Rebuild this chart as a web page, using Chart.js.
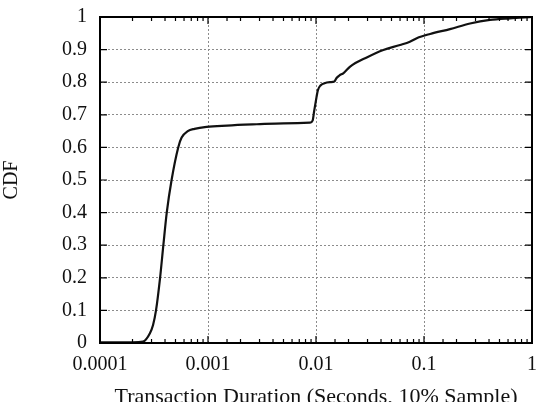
<!DOCTYPE html>
<html>
<head>
<meta charset="utf-8">
<script src="https://cdn.jsdelivr.net/npm/chart.js@4"></script>
<style>
  html, body { margin: 0; padding: 0; background: #fff; }
  canvas { display: block; }
</style>
</head>
<body>
<canvas id="cdfChart" width="540" height="402"></canvas>
<script>
// Transaction duration (seconds) and the CDF value
const durations = [
  0.0001, 0.0002, 0.00025, 0.00029, 0.00031, 0.00033, 0.00036, 0.000386, 0.000415,
  0.00046, 0.00053, 0.00057, 0.00065, 0.00075, 0.00097, 0.0015, 0.00283, 0.005,
  0.0088, 0.0093, 0.0096, 0.01, 0.0104, 0.011, 0.012, 0.0135, 0.0148, 0.0155,
  0.0165, 0.018, 0.0207, 0.0295, 0.042, 0.06, 0.074, 0.0857, 0.114, 0.174,
  0.267, 0.408, 0.625, 1
]
const cdfValues = [
  0.002, 0.002, 0.004, 0.03, 0.055, 0.1, 0.2, 0.3, 0.4,
  0.5, 0.6, 0.63, 0.65, 0.657, 0.663, 0.667, 0.671, 0.674,
  0.676, 0.682, 0.71, 0.745, 0.775, 0.79, 0.797, 0.8, 0.802, 0.813,
  0.821, 0.828, 0.848, 0.876, 0.899, 0.914, 0.924, 0.935, 0.948, 0.963,
  0.98, 0.991, 0.996, 1
]

const xTickLabels = { '0.0001': '0.0001', '0.001': '0.001', '0.01': '0.01', '0.1': '0.1', '1': '1' }
const yTickValues = [0, 0.1, 0.2, 0.3, 0.4, 0.5, 0.6, 0.7, 0.8, 0.9, 1]

const serif = '"Liberation Serif", "Times New Roman", serif'

function isDecade (v) {
  const l = Math.log10(v)
  return Math.abs(l - Math.round(l)) < 1e-6
}

// inward tick marks + frame, like a gnuplot border
const framePlugin = {
  id: 'frame',
  afterDraw (chart) {
    const { ctx, chartArea: a, scales } = chart
    ctx.save()
    ctx.strokeStyle = '#000'
    ctx.lineWidth = 1.2
    ctx.beginPath()
    scales.x.ticks.forEach(t => {
      const px = scales.x.getPixelForValue(t.value)
      const len = isDecade(t.value) ? 7 : 4
      ctx.moveTo(px, a.bottom); ctx.lineTo(px, a.bottom - len)
      ctx.moveTo(px, a.top); ctx.lineTo(px, a.top + len)
    })
    scales.y.ticks.forEach(t => {
      const py = scales.y.getPixelForValue(t.value)
      ctx.moveTo(a.left, py); ctx.lineTo(a.left + 7, py)
      ctx.moveTo(a.right, py); ctx.lineTo(a.right - 7, py)
    })
    ctx.stroke()
    ctx.lineWidth = 2
    ctx.strokeRect(a.left, a.top, a.right - a.left, a.bottom - a.top)
    ctx.restore()
  }
}

new Chart(document.getElementById('cdfChart'), {
  type: 'scatter',
  data: {
    datasets: [{
      data: durations.map((d, i) => ({ x: d, y: cdfValues[i] })),
      showLine: true,
      borderColor: '#111',
      borderWidth: 2.2,
      pointRadius: 0,
      cubicInterpolationMode: 'monotone'
    }]
  },
  options: {
    responsive: false,
    animation: false,
    layout: { padding: { top: 17, right: 8, left: 0, bottom: 0 } },
    plugins: { legend: { display: false }, tooltip: { enabled: false } },
    scales: {
      x: {
        type: 'logarithmic',
        min: 0.0001,
        max: 1,
        afterFit: s => {
          s.height = 59
          s.paddingLeft = 0
          s.paddingRight = 0
        },
        border: { display: false, dash: [2, 2] },
        grid: {
          drawTicks: false,
          lineWidth: 1,
          color: c => (c.tick && isDecade(c.tick.value) && c.tick.value > 0.0001 && c.tick.value < 1) ? '#8c8c8c' : 'rgba(0,0,0,0)'
        },
        ticks: {
          autoSkip: false,
          maxRotation: 0,
          padding: 10,
          color: '#111',
          font: { family: serif, size: 20 },
          callback: v => xTickLabels[String(v)] || (isDecade(v) ? String(+v.toPrecision(1)) : '')
        },
        title: {
          display: true,
          text: 'Transaction Duration (Seconds, 10% Sample)',
          color: '#111',
          font: { family: serif, size: 22 },
          padding: { top: 0, bottom: -8 }
        }
      },
      y: {
        min: 0,
        max: 1,
        afterFit: s => {
          s.width = 100
          s.paddingTop = 0
          s.paddingBottom = 0
        },
        afterBuildTicks: s => { s.ticks = yTickValues.map(v => ({ value: v })) },
        border: { display: false, dash: [2, 2] },
        grid: {
          drawTicks: false,
          lineWidth: 1,
          color: c => (c.tick && c.tick.value > 0 && c.tick.value < 1) ? '#8c8c8c' : 'rgba(0,0,0,0)'
        },
        ticks: {
          padding: 13,
          color: '#111',
          font: { family: serif, size: 20 },
          callback: v => String(Math.round(v * 10) / 10)
        },
        title: {
          display: true,
          text: 'CDF',
          color: '#111',
          font: { family: serif, size: 20 },
          padding: { top: 0, bottom: 0 }
        }
      }
    }
  },
  plugins: [framePlugin]
})
</script>
</body>
</html>
